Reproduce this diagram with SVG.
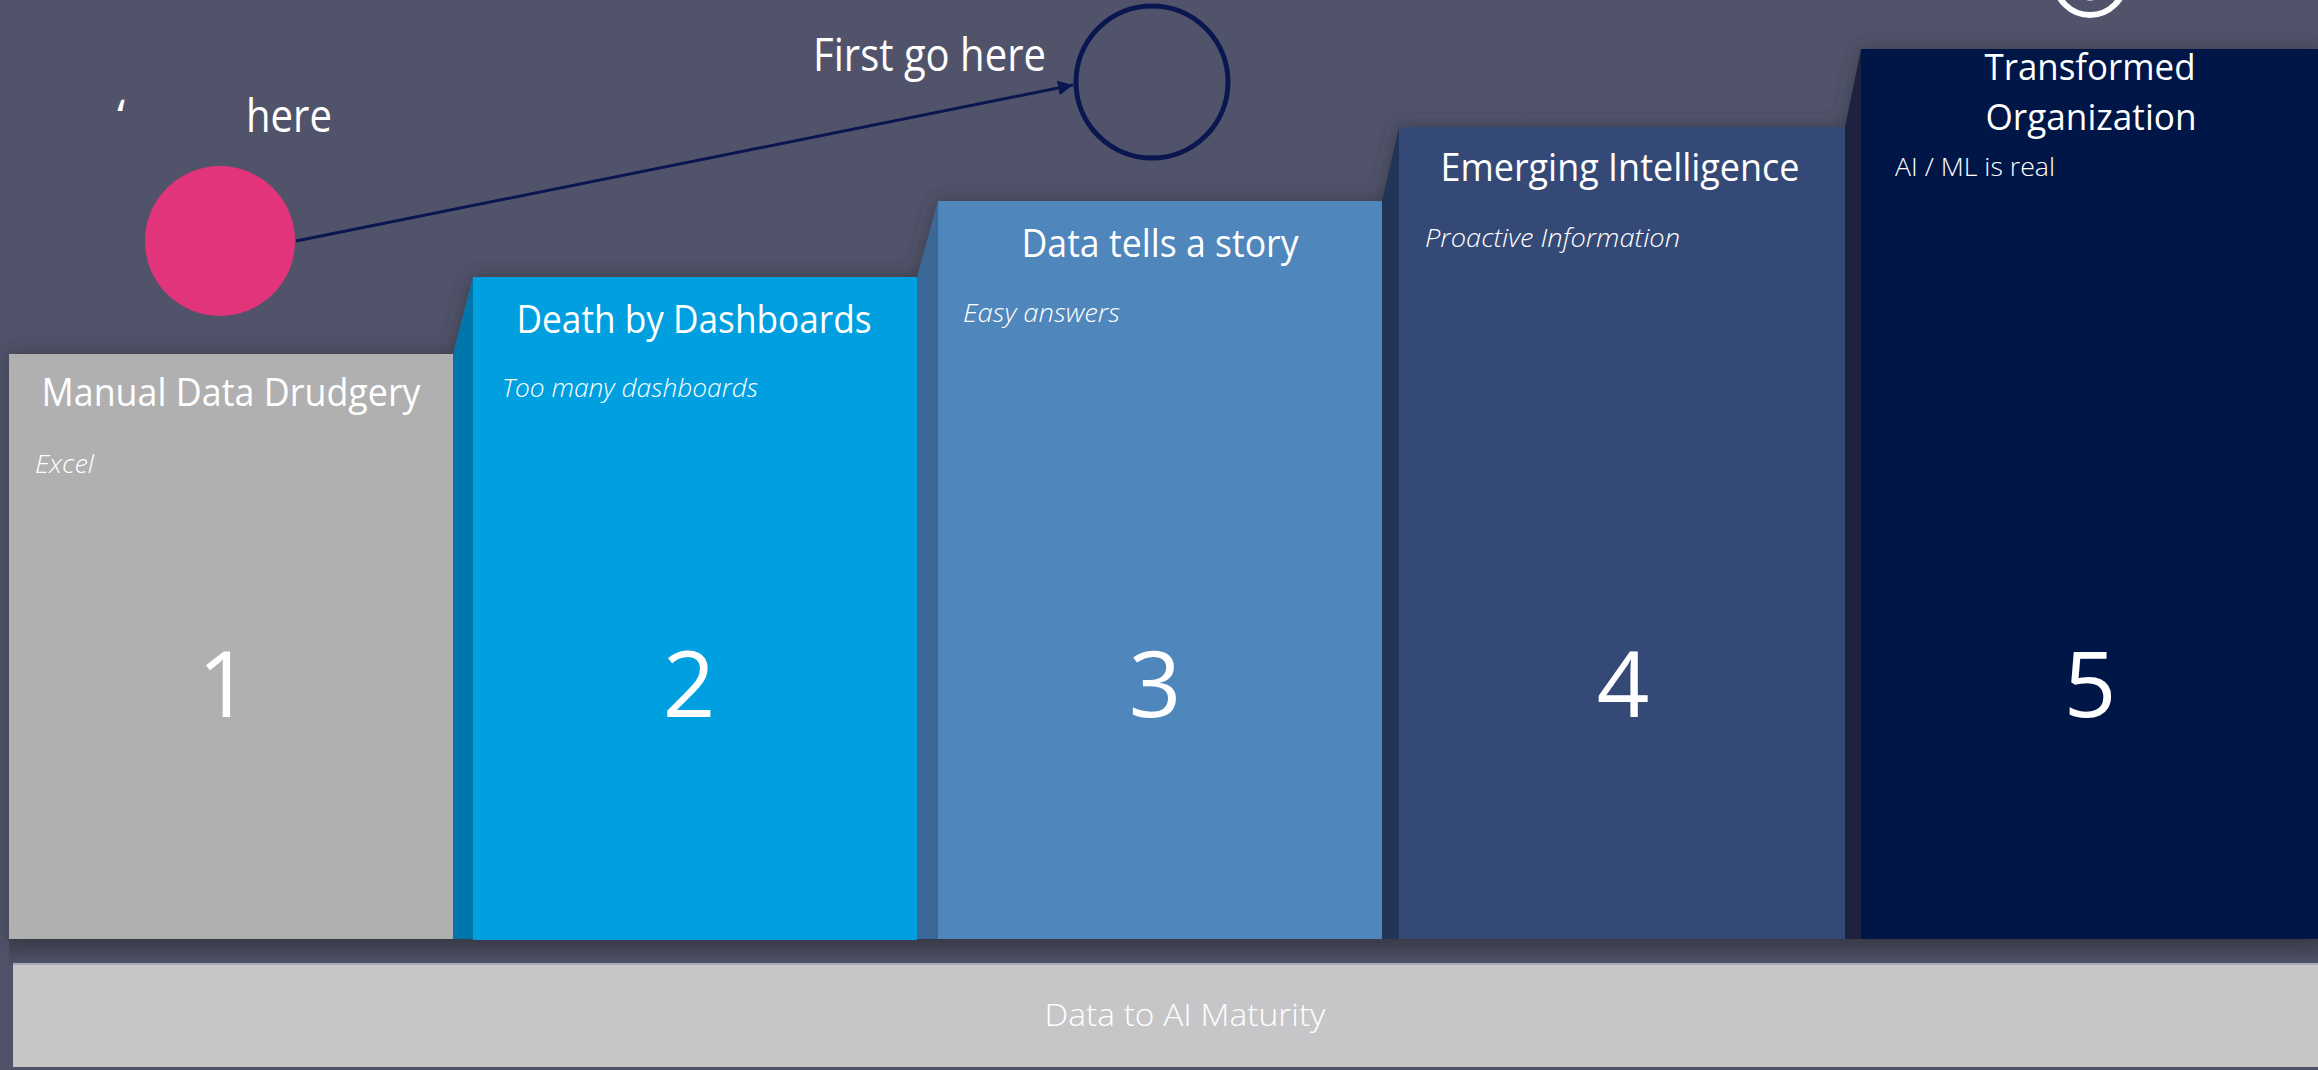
<svg xmlns="http://www.w3.org/2000/svg" width="2318" height="1070" viewBox="0 0 2318 1070">
  <defs>
    <style>
      text { font-family: "Open Sans", "Noto Sans", "Liberation Sans", sans-serif; fill: #FFFFFF; }
      .title { font-size: 39px; text-anchor: middle; }
      .title2 { font-size: 36px; text-anchor: middle; }
      .sub { font-size: 25px; font-style: italic; font-weight: 300; }
      .num { font-size: 92px; text-anchor: middle; }
      .ann { font-size: 46px; }
      .side2 { fill: #0076AA; }
      .side3 { fill: #3A6896; }
      .side4 { fill: #243556; }
      .side5 { fill: #1B2440; }
    </style>
    <linearGradient id="bg" x1="0" y1="0" x2="0" y2="1">
      <stop offset="0" stop-color="#50536A"/>
      <stop offset="1" stop-color="#4F5267"/>
    </linearGradient>
    <linearGradient id="floorShadow" x1="0" y1="0" x2="0" y2="1">
      <stop offset="0" stop-color="#3D3F4D"/>
      <stop offset="1" stop-color="#4E5165"/>
    </linearGradient>
    <filter id="shadow" x="-5%" y="-10%" width="110%" height="120%">
      <feDropShadow dx="0" dy="0" stdDeviation="9" flood-color="#30323F" flood-opacity="0.7"/>
    </filter>
    <marker id="arrow" viewBox="0 0 10 10" refX="10" refY="5" markerWidth="5" markerHeight="5" orient="auto" markerUnits="strokeWidth">
      <path d="M0,0 L10,5 L0,10 z" fill="#0A1650"/>
    </marker>
  </defs>

  <rect x="0" y="0" width="2318" height="1070" fill="url(#bg)"/>

  <!-- floor shadow under steps -->
  <rect x="9" y="939" width="2309" height="24" fill="url(#floorShadow)"/>

  <!-- base bar -->
  <g id="base">
    <rect x="13" y="963" width="2305" height="104" fill="#C6C6C8"/>
    <rect x="13" y="963" width="2305" height="2" fill="#A9AAB1"/>
    <text x="1185" y="1026" text-anchor="middle" font-size="31" font-weight="300" fill="#F5F5F5" textLength="281" lengthAdjust="spacingAndGlyphs">Data to AI Maturity</text>
  </g>

  <g id="steps" filter="url(#shadow)">
    <g id="step1">
      <rect x="9" y="354" width="444" height="585" fill="#B0B0B0"/>
    </g>
    <g id="step2">
      <polygon class="side2" points="453,354 473,277 473,939 453,939"/>
      <rect x="473" y="277" width="444" height="663" fill="#009FE0"/>
    </g>
    <g id="step3">
      <polygon class="side3" points="917,277 938,201 938,939 917,939"/>
      <rect x="938" y="201" width="444" height="738" fill="#4F86BC"/>
    </g>
    <g id="step4">
      <polygon class="side4" points="1382,201 1399,127 1399,939 1382,939"/>
      <rect x="1399" y="127" width="446" height="812" fill="#354976"/>
    </g>
    <g id="step5">
      <polygon class="side5" points="1845,127 1861,49 1861,939 1845,939"/>
      <rect x="1861" y="49" width="457" height="890" fill="#021447"/>
    </g>
  </g>

  <g id="step-labels">
    <text class="title" x="231" y="406" textLength="379" lengthAdjust="spacingAndGlyphs">Manual Data Drudgery</text>
    <text class="sub" x="35" y="473" textLength="59" lengthAdjust="spacingAndGlyphs">Excel</text>
    <text class="num" x="224" y="717">1</text>

    <text class="title" x="694" y="333" textLength="355" lengthAdjust="spacingAndGlyphs">Death by Dashboards</text>
    <text class="sub" x="502" y="397" textLength="256" lengthAdjust="spacingAndGlyphs">Too many dashboards</text>
    <text class="num" x="689" y="717">2</text>

    <text class="title" x="1160" y="257" textLength="277" lengthAdjust="spacingAndGlyphs">Data tells a story</text>
    <text class="sub" x="963" y="322" textLength="157" lengthAdjust="spacingAndGlyphs">Easy answers</text>
    <text class="num" x="1155" y="717">3</text>

    <text class="title" x="1620" y="181" textLength="359" lengthAdjust="spacingAndGlyphs">Emerging Intelligence</text>
    <text class="sub" x="1425" y="247" textLength="255" lengthAdjust="spacingAndGlyphs">Proactive Information</text>
    <text class="num" x="1623" y="717">4</text>

    <text class="title2" x="2090" y="80" textLength="211" lengthAdjust="spacingAndGlyphs">Transformed</text>
    <text class="title2" x="2091" y="130" textLength="211" lengthAdjust="spacingAndGlyphs">Organization</text>
    <text x="1895" y="176" font-size="25" font-weight="300" textLength="160" lengthAdjust="spacingAndGlyphs">AI / ML is real</text>
    <text class="num" x="2090" y="717">5</text>
  </g>

  <g id="start-node">
    <circle cx="220" cy="241" r="75" fill="#E2347A"/>
    <text class="ann" x="117" y="132">ʻ</text>
    <text class="ann" x="246" y="132" textLength="86" lengthAdjust="spacingAndGlyphs">here</text>
  </g>

  <g id="target-node">
    <circle cx="1152" cy="82" r="76" fill="none" stroke="#0A1650" stroke-width="5"/>
    <text class="ann" x="813" y="71" textLength="233" lengthAdjust="spacingAndGlyphs">First go here</text>
  </g>

  <g id="corner-icon">
    <circle cx="2090" cy="-20" r="35" fill="none" stroke="#FFFFFF" stroke-width="6"/>
    <circle cx="2090" cy="-12" r="10" fill="none" stroke="#FFFFFF" stroke-width="5"/>
  </g>

  <g id="connectors">
    <line x1="296" y1="241" x2="1073" y2="85" stroke="#0A1650" stroke-width="3" marker-end="url(#arrow)"/>
  </g>
</svg>
